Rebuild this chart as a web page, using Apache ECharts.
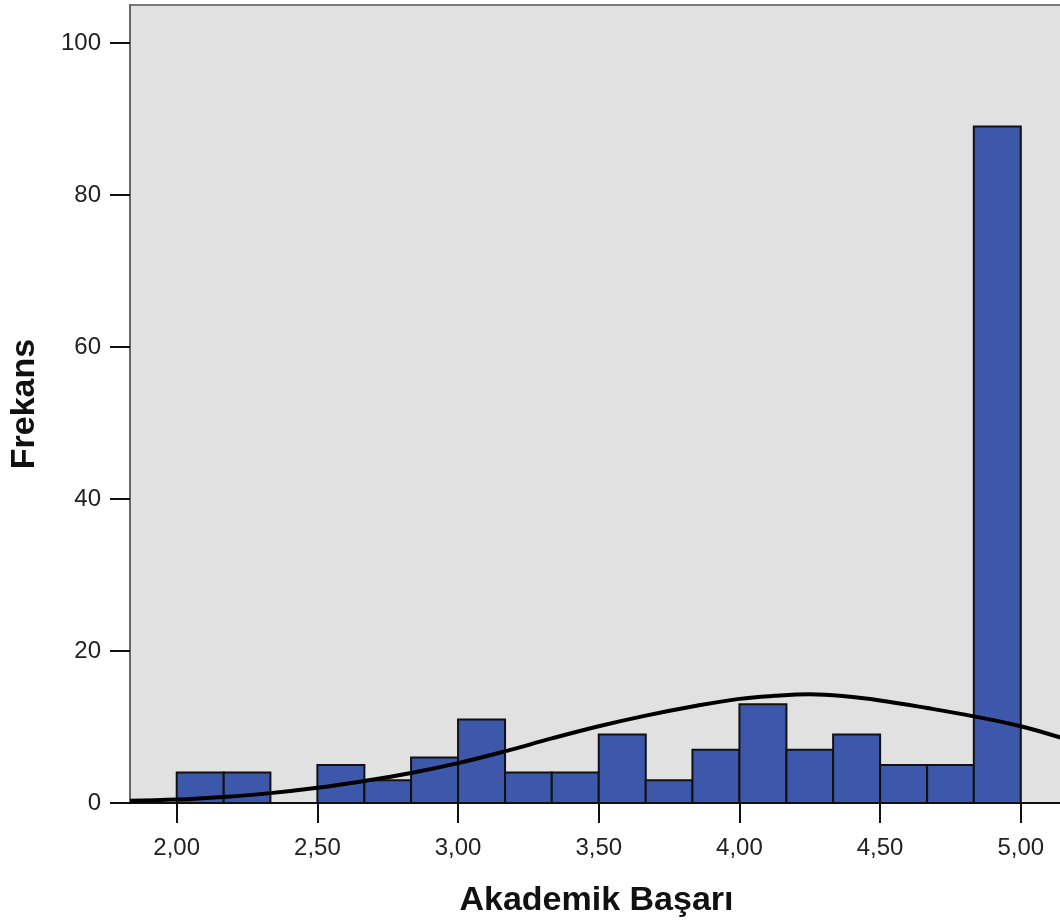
<!DOCTYPE html>
<html>
<head>
<meta charset="utf-8">
<script src="https://cdn.jsdelivr.net/npm/echarts@6/dist/echarts.min.js"></script>
<style>
html,body{margin:0;padding:0;background:#fff;}
#chart{width:1060px;height:922px;}
</style>
</head>
<body>
<div id="chart"></div>
<script>
// Histogram bin edges (lower edge of each bin, plus final upper edge)
const binEdges = [2.000, 2.167, 2.333, 2.500, 2.667, 2.833, 3.000, 3.167, 3.333, 3.500,
                  3.667, 3.833, 4.000, 4.167, 4.333, 4.500, 4.667, 4.833, 5.000];
// Frequencies per bin
const counts = [4, 4, 0, 5, 3, 6, 11, 4, 4, 9, 3, 7, 13, 7, 9, 5, 5, 89];
// Normal curve points
const curveX = [1.834, 2.0, 2.167, 2.333, 2.5, 2.667, 2.833, 3.0, 3.167, 3.333, 3.5,
                3.667, 3.833, 4.0, 4.125, 4.25, 4.375, 4.5, 4.667, 4.833, 5.0, 5.15];
const curveY = [0.3, 0.45, 0.8, 1.3, 2.0, 2.9, 3.95, 5.25, 6.8, 8.5, 10.1,
                11.5, 12.7, 13.7, 14.1, 14.3, 14.05, 13.5, 12.5, 11.4, 10.1, 8.5];
// Tick labels
const xTicks = [2.0, 2.5, 3.0, 3.5, 4.0, 4.5, 5.0];
const xTitle = 'Akademik Başarı';
const yTitle = 'Frekans';

const barData = counts.map((c, i) => [binEdges[i], binEdges[i + 1], c]);
const curveData = curveX.map((x, i) => [x, curveY[i]]);

const chart = echarts.init(document.getElementById('chart'), null, {renderer: 'canvas'});
const labelFont = {fontFamily: 'Liberation Sans, Arial, sans-serif', fontSize: 24, color: '#222'};
const titleFont = {fontFamily: 'Liberation Sans, Arial, sans-serif', fontSize: 34, fontWeight: 'bold', color: '#111'};
chart.setOption({
  animation: false,
  backgroundColor: '#ffffff',
  grid: {
    left: 130, top: 5, right: -3, bottom: 119,
    outerBoundsMode: 'none', containLabel: false,
    show: true, backgroundColor: '#e1e1e1', borderColor: '#7a7a7a', borderWidth: 2
  },
  xAxis: {
    type: 'value', min: 1.834, max: 5.150,
    name: xTitle, nameLocation: 'middle', nameGap: 81,
    nameTextStyle: titleFont,
    axisLine: {show: true, onZero: false, lineStyle: {color: '#111', width: 2}},
    axisTick: {show: true, inside: false, customValues: xTicks, length: 20, lineStyle: {color: '#111', width: 2}},
    axisLabel: Object.assign({show: true, customValues: xTicks, margin: 33,
      formatter: v => v.toFixed(2).replace('.', ',')}, labelFont),
    splitLine: {show: false}
  },
  yAxis: {
    type: 'value', min: 0, max: 105, interval: 20,
    name: yTitle, nameLocation: 'middle', nameGap: 88, nameRotate: 90,
    nameTextStyle: titleFont,
    axisLine: {show: true, lineStyle: {color: '#666', width: 2}},
    axisTick: {show: true, inside: false, length: 20, lineStyle: {color: '#111', width: 2}},
    axisLabel: Object.assign({margin: 29, showMaxLabel: false}, labelFont),
    splitLine: {show: false}
  },
  series: [
    {
      type: 'custom',
      data: barData,
      encode: {x: [0, 1], y: 2},
      clip: true,
      renderItem: function (params, api) {
        const p0 = api.coord([api.value(0), api.value(2)]);
        const p1 = api.coord([api.value(1), 0]);
        return {
          type: 'rect',
          shape: {x: p0[0], y: p0[1], width: p1[0] - p0[0], height: p1[1] - p0[1]},
          style: {fill: '#3d57ab', stroke: '#111', lineWidth: 2}
        };
      },
      z: 2
    },
    {
      type: 'line',
      data: curveData,
      smooth: 0.4,
      symbol: 'none',
      clip: true,
      lineStyle: {color: '#000', width: 4},
      z: 3
    }
  ]
});
</script>
</body>
</html>
